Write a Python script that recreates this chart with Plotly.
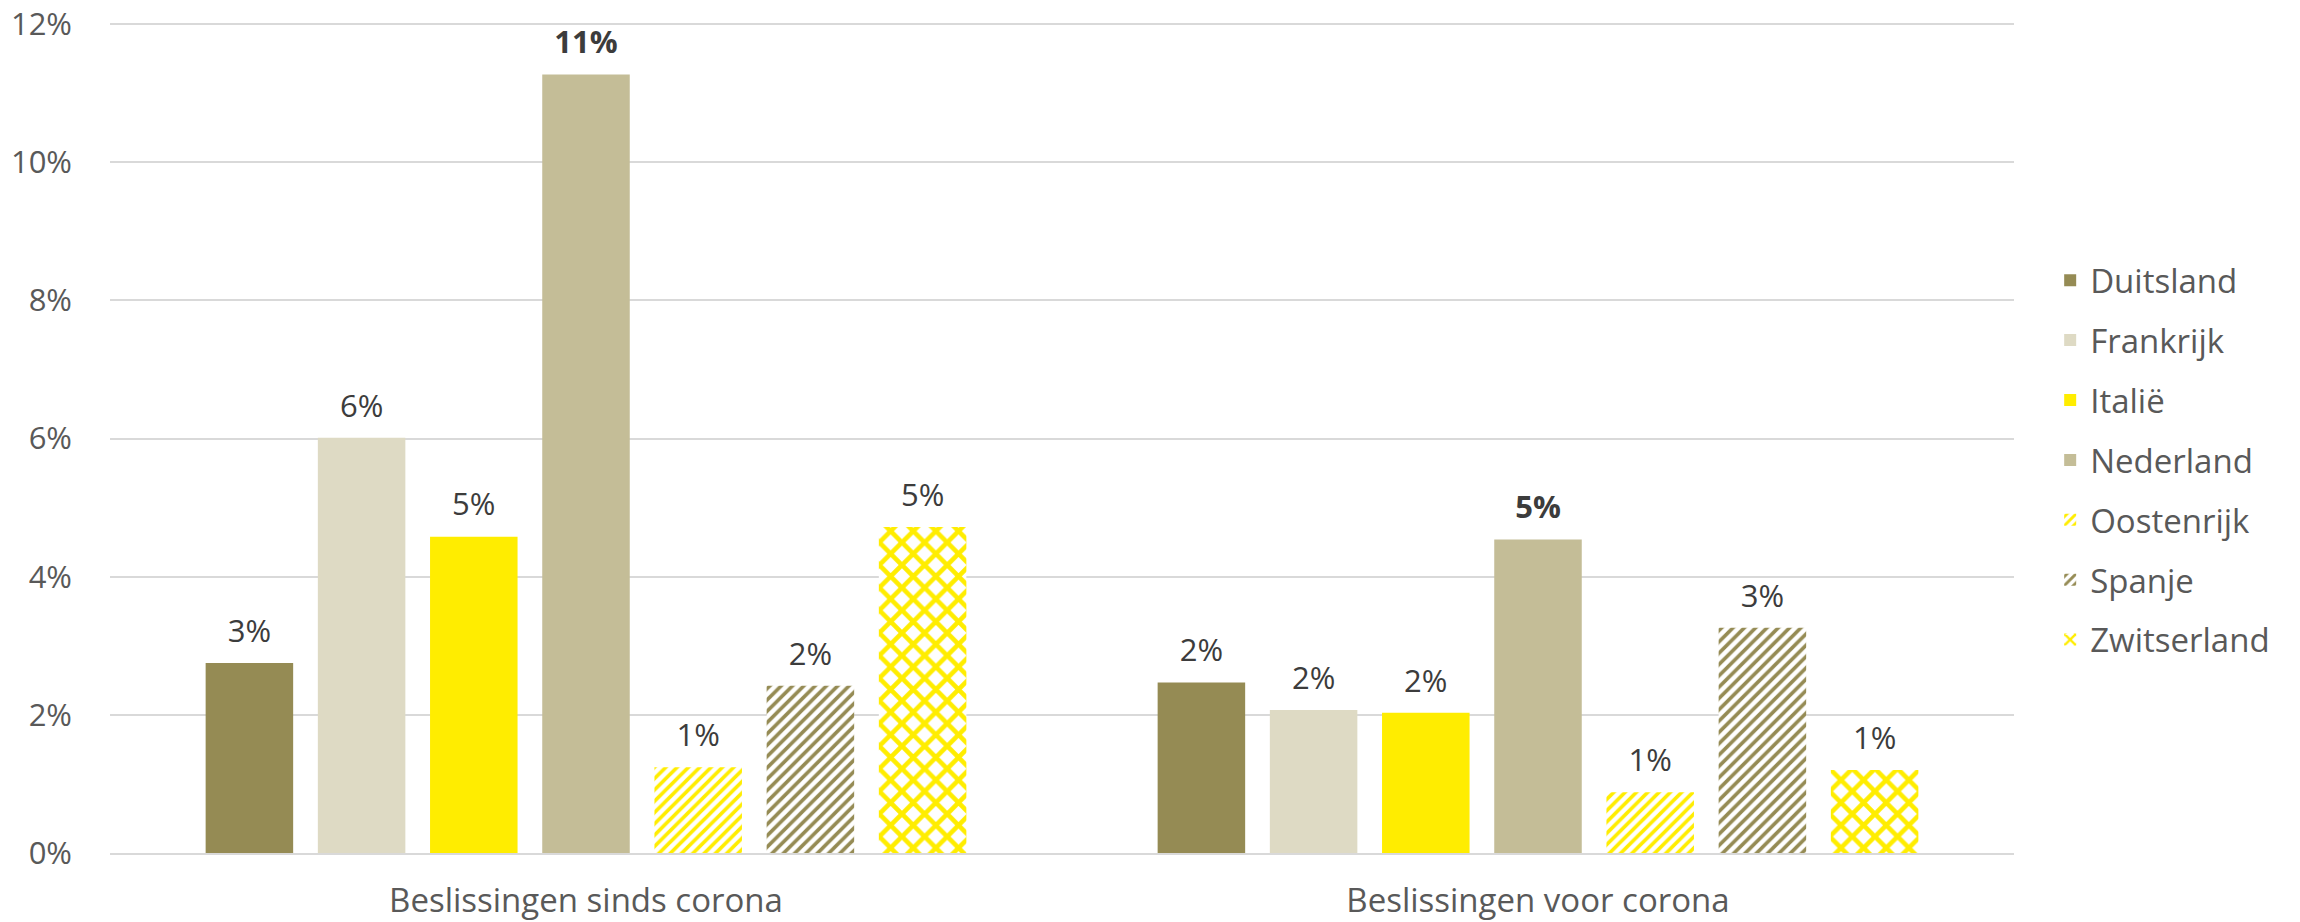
import plotly.graph_objects as go

categories = ["Beslissingen sinds corona", "Beslissingen voor corona"]
countries = ["Duitsland", "Frankrijk", "Italië", "Nederland", "Oostenrijk", "Spanje", "Zwitserland"]
duitsland = [2.75, 2.47]
frankrijk = [6.01, 2.07]
italie = [4.58, 2.03]
nederland = [11.27, 4.54]
oostenrijk = [1.24, 0.88]
spanje = [2.42, 3.26]
zwitserland = [4.72, 1.2]
series = [duitsland, frankrijk, italie, nederland, oostenrijk, spanje, zwitserland]
y_ticks = [0, 2, 4, 6, 8, 10, 12]
y_tick_labels = [f"{v}%" for v in y_ticks]

OLIVE = "#958B54"
BEIGE = "#DEDAC4"
YELLOW = "#FFED00"
KHAKI = "#C4BD97"
styles = [
    dict(color=OLIVE),
    dict(color=BEIGE),
    dict(color=YELLOW),
    dict(color=KHAKI),
    dict(color=YELLOW, pattern=dict(shape="/", fgcolor=YELLOW, bgcolor="white", size=8, solidity=0.45, fillmode="replace")),
    dict(color=OLIVE, pattern=dict(shape="/", fgcolor=OLIVE, bgcolor="white", size=8, solidity=0.45, fillmode="replace")),
    dict(color=YELLOW, pattern=dict(shape="x", fgcolor=YELLOW, bgcolor="white", size=16, solidity=0.5, fillmode="replace")),
]

FONT = "Open Sans"
fig = go.Figure()
for i, (name, vals) in enumerate(zip(countries, series)):
    fig.add_trace(go.Bar(
        x=categories, y=vals, name=name, marker=dict(line=dict(width=0), **styles[i]),
        legendgroup=name, hoverinfo="skip",
    ))
for i, (name, vals) in enumerate(zip(countries, series)):
    bold = name == "Nederland"
    fig.add_trace(go.Scatter(
        x=categories, y=vals, mode="markers+text", showlegend=False,
        marker=dict(size=20, opacity=0),
        text=[(f"<b>{round(v):.0f}%</b>" if bold else f"{round(v):.0f}%") for v in vals],
        textposition="top center",
        textfont=dict(family=FONT, size=31, color="#3C3C3C"),
        hoverinfo="skip", cliponaxis=False,
    ))

fig.update_layout(
    width=2300, height=922,
    margin=dict(l=102, r=294, t=14, b=77, autoexpand=False),
    paper_bgcolor="white", plot_bgcolor="white",
    barmode="group", bargap=0.175, bargroupgap=0.22,
    scattermode="group", scattergap=0.175,
    font=dict(family=FONT, size=33, color="#595959"),
    legend=dict(x=1.019, xanchor="left", y=0.4726, yanchor="middle",
                font=dict(family=FONT, size=33, color="#595959"),
                tracegroupgap=14, traceorder="grouped"),
    xaxis=dict(showgrid=False, showline=True, linecolor="#D9D9D9", linewidth=2,
               ticks="", ticklabelstandoff=17, automargin=False,
               tickfont=dict(size=33, color="#595959")),
    yaxis=dict(range=[0, 12.03], tickmode="array", tickvals=y_ticks, ticktext=y_tick_labels,
               showgrid=True, gridcolor="#D9D9D9", gridwidth=2, zeroline=False, showline=False,
               ticks="", ticklabelstandoff=37, automargin=False, ticklabeloverflow="allow",
               tickfont=dict(size=31, color="#595959")),
)
fig.write_html("out.html")
